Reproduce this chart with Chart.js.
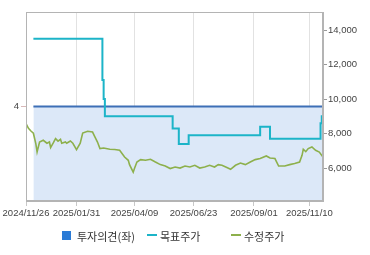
<!DOCTYPE html>
<html>
<head>
<meta charset="utf-8">
<script src="https://cdn.jsdelivr.net/npm/chart.js@4"></script>
<style>
  body { margin: 0; background: #fff; }
  #wrap { position: relative; width: 370px; height: 255px; }
  #legend { position: absolute; left: 0; top: 227px; width: 370px; height: 18px; font-family: 'Noto Sans CJK KR', sans-serif; font-size: 11px; color: #333; }
  .item { position: absolute; top: 0; height: 18px; line-height: 18px; white-space: nowrap; }
  .box { position: absolute; top: 4px; width: 9px; height: 9px; }
  .dash { position: absolute; top: 7px; width: 10px; height: 2px; }
</style>
</head>
<body>
<div id="wrap">
  <canvas id="chart" width="370" height="255"></canvas>
  <div id="legend"></div>
</div>
<script>
// x axis = trading day index, 0 = 2024/11/26
const tick_idx = [0, 41, 88, 136, 185, 230];
const tick_labels = ['2024/11/26', '2025/01/31', '2025/04/09', '2025/06/23', '2025/09/01', '2025/11/10'];
const last_idx = 241;

// 투자의견 (left axis)
const opinion_idx = [6, 241];
const opinion_vals = [4, 4];

// 목표주가
const target_idx = [6, 62, 63, 64, 119, 124, 132, 190, 198, 239, 240, 241];
const target_vals = [13500, 11100, 10000, 9000, 8300, 7400, 7900, 8400, 7700, 8600, 9000, 9000];

// 수정주가
const price_idx = [0, 2, 4, 6, 8, 9, 11, 14, 17, 19, 20, 22, 24, 26, 28, 29, 32, 33, 36, 38, 41, 44, 46,
  50, 54, 56, 58, 60, 63, 68, 72, 76, 80, 83, 84, 87, 88, 90, 93, 97, 101, 105, 109, 113,
  117, 121, 125, 129, 133, 137, 141, 145, 149, 153, 156, 159, 163, 166, 170, 174, 178, 182, 186, 190,
  195, 198, 202, 205, 210, 214, 218, 222, 224, 225, 227, 229, 232, 235, 238, 241];
const price_vals = [8580, 8300, 8150, 8020, 7400, 6930, 7510, 7610, 7440, 7510, 7190, 7440, 7710, 7560, 7670, 7440, 7510, 7440, 7570, 7440, 7070, 7440, 8030,
  8130, 8090, 7800, 7510, 7130, 7160, 7090, 7080, 7030, 6640, 6450, 6200, 5760, 5970, 6350, 6490, 6450, 6510, 6350, 6200, 6120,
  5970, 6060, 6000, 6120, 6060, 6160, 6000, 6060, 6160, 6060, 6200, 6160, 6030, 5930, 6160, 6290, 6200, 6350, 6490, 6550,
  6700, 6580, 6550, 6120, 6120, 6200, 6260, 6350, 6740, 7090, 6950, 7130, 7220, 7030, 6930, 6640];

const legend_items = [
  { text: '투자의견(좌)', color: '#2b7bd6', kind: 'box', left: 62 },
  { text: '목표주가', color: '#1cb4c8', kind: 'dash', left: 147 },
  { text: '수정주가', color: '#8db04c', kind: 'dash', left: 231 }
];

function to_points (xs, ys) {
  const points = [];
  for (let i = 0; i < xs.length; i++) {
    points.push({ x: xs[i], y: ys[i] });
  }
  return points;
}

function fix_ticks (values) {
  return function (scale) {
    scale.ticks = values.map((v) => ({ value: v }));
  };
}

const tick_font = { family: "'Liberation Sans Narrow', 'Liberation Sans', Arial", size: 9.5 };

const frame_plugin = {
  id: 'frame',
  afterDraw (chart) {
    const a = chart.chartArea;
    const ctx = chart.ctx;
    ctx.save();
    ctx.strokeStyle = '#b4b4b4';
    ctx.lineWidth = 1;
    ctx.strokeRect(Math.round(a.left) + 0.5, Math.round(a.top) + 0.5, Math.round(a.right - a.left) - 1, Math.round(a.bottom - a.top) - 1);
    ctx.restore();
  }
};

new Chart(document.getElementById('chart'), {
  type: 'line',
  data: {
    datasets: [{
      label: '투자의견(좌)',
      data: to_points(opinion_idx, opinion_vals),
      yAxisID: 'y',
      borderColor: '#3d6fb6',
      borderWidth: 2,
      backgroundColor: '#dce8f8',
      fill: 'origin',
      pointRadius: 0,
      order: 3
    }, {
      label: '목표주가',
      data: to_points(target_idx, target_vals),
      yAxisID: 'y1',
      borderColor: '#1cb4c8',
      borderWidth: 2,
      stepped: true,
      fill: false,
      pointRadius: 0,
      order: 1
    }, {
      label: '수정주가',
      data: to_points(price_idx, price_vals),
      yAxisID: 'y1',
      borderColor: '#8db04c',
      borderWidth: 1.6,
      fill: false,
      tension: 0,
      pointRadius: 0,
      order: 2
    }]
  },
  options: {
    responsive: false,
    animation: false,
    layout: { padding: { top: 12, bottom: 33, left: 0, right: 0 } },
    plugins: {
      legend: { display: false },
      tooltip: { enabled: false },
      filler: { drawTime: 'beforeDatasetsDraw' }
    },
    scales: {
      x: {
        type: 'linear',
        min: 0,
        max: last_idx,
        afterBuildTicks: fix_ticks(tick_idx),
        afterFit (s) { s.height = 21; s.paddingLeft = 0; s.paddingRight = 0; },
        grid: { color: '#e2e2e2', tickColor: '#c8c8c8', tickLength: 5 },
        border: { color: '#b4b4b4' },
        ticks: {
          autoSkip: false,
          maxRotation: 0,
          padding: 2,
          color: '#444',
          font: tick_font,
          callback: (v) => tick_labels[tick_idx.indexOf(v)]
        }
      },
      y: {
        position: 'left',
        min: 0,
        max: 8,
        afterBuildTicks: fix_ticks([4]),
        afterFit (s) { s.width = 26; },
        grid: { drawOnChartArea: false, tickColor: '#d8b8b8', tickLength: 5 },
        border: { color: '#b4b4b4' },
        ticks: { padding: 2, color: '#444', font: tick_font }
      },
      y1: {
        position: 'right',
        min: 4090,
        max: 15050,
        afterBuildTicks: fix_ticks([6000, 8000, 10000, 12000, 14000]),
        afterFit (s) { s.width = 47; },
        grid: { drawOnChartArea: false, tickColor: '#999', tickLength: 4 },
        border: { color: '#b4b4b4' },
        ticks: { padding: 1, color: '#444', font: tick_font, callback: (v) => v.toLocaleString('en-US') }
      }
    }
  },
  plugins: [frame_plugin]
});

const legend = document.getElementById('legend');
legend_items.forEach(function (item) {
  const div = document.createElement('div');
  div.setAttribute('class', 'item');
  div.style.left = item.left + 'px';
  const mark = document.createElement('span');
  mark.setAttribute('class', item.kind);
  mark.style.left = '0px';
  mark.style.background = item.color;
  const label = document.createElement('span');
  label.style.marginLeft = (item.kind == 'box' ? 15 : 13) + 'px';
  label.appendChild(document.createTextNode(item.text));
  div.appendChild(mark);
  div.appendChild(label);
  legend.appendChild(div);
});
</script>
</body>
</html>
